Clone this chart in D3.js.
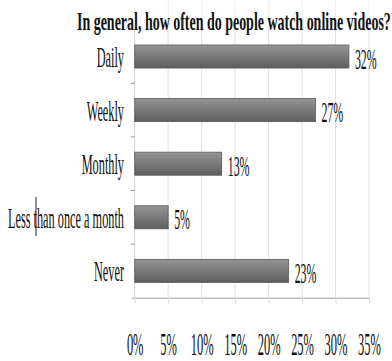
<!DOCTYPE html>
<html>
<head>
<meta charset="utf-8">
<script src="https://cdn.jsdelivr.net/npm/d3@7"></script>
<style>
  html, body { margin: 0; padding: 0; background: #fff; }
  svg { display: block; }
  text { font-family: "Liberation Serif", "Times New Roman", serif; fill: #111; }
</style>
</head>
<body>
<svg id="chart" width="392" height="361"></svg>
<script>
// Survey answers and their shares (%)
const categories = ["Daily", "Weekly", "Monthly", "Less than once a month", "Never"];
const values = [32, 27, 13, 5, 23];
const tickValues = [0, 5, 10, 15, 20, 25, 30, 35];
const title = "In general, how often do people watch online videos?";

const svg = d3.select("#chart");
const plotLeft = 134.7, plotRight = 369, plotTop = 29.7, plotBottom = 297.7;

const x = d3.scaleLinear().domain([0, 35]).range([plotLeft, plotRight]);
const y = d3.scaleBand().domain(categories).range([plotTop, plotBottom])
  .paddingInner(0.57).paddingOuter(0.285);

// Squeeze a text element horizontally so it spans the given width
function fitWidth(sel, width, tx, ty) {
  sel.each(function () {
    const w = this.getComputedTextLength();
    const s = width / w;
    d3.select(this).attr("transform", `translate(${tx},${ty}) scale(${s},1)`);
  });
}
function squeeze(sel, s, tx, ty) {
  sel.attr("transform", `translate(${tx},${ty}) scale(${s},1)`);
}

// Bar gradient
const defs = svg.append("defs");
const grad = defs.append("linearGradient").attr("id", "barGrad")
  .attr("x1", 0).attr("y1", 0).attr("x2", 0).attr("y2", 1);
grad.append("stop").attr("offset", "0%").attr("stop-color", "#959595");
grad.append("stop").attr("offset", "100%").attr("stop-color", "#5e5e5e");

// Vertical grid lines (faint above the plot, behind the title)
svg.append("g").selectAll("line").data(tickValues.slice(1)).join("line")
  .attr("x1", d => x(d)).attr("x2", d => x(d))
  .attr("y1", 0).attr("y2", plotTop)
  .attr("stroke", "#efefef").attr("stroke-width", 1);
svg.append("g").selectAll("line").data(tickValues.slice(1)).join("line")
  .attr("x1", d => x(d)).attr("x2", d => x(d))
  .attr("y1", plotTop).attr("y2", plotBottom)
  .attr("stroke", "#e2e2e2").attr("stroke-width", 1);

// Left axis line with ticks between categories
svg.append("line").attr("x1", plotLeft).attr("x2", plotLeft)
  .attr("y1", plotTop).attr("y2", plotBottom)
  .attr("stroke", "#d0d0d0");
const step = y.step();
svg.append("g").selectAll("line").data(categories.slice(1)).join("line")
  .attr("x1", plotLeft - 4).attr("x2", plotLeft)
  .attr("y1", d => y(d) - y.paddingInner() * step / 2)
  .attr("y2", d => y(d) - y.paddingInner() * step / 2)
  .attr("stroke", "#999");

// Bottom axis
const xAxis = d3.axisBottom(x).tickValues(tickValues)
  .tickFormat(d => d + "%").tickSize(6).tickPadding(0);
const gx = svg.append("g").attr("transform", `translate(0,${plotBottom})`).call(xAxis);
gx.select(".domain").attr("stroke", "#a0a0a0").attr("d", `M${plotLeft - 3},0.5H${plotRight}`);
gx.selectAll(".tick line").attr("stroke", "#dcdcdc");
gx.selectAll(".tick text")
  .attr("y", null).attr("dy", null)
  .style("font-size", "32px").style("font-family", "'Liberation Serif', serif")
  .attr("fill", "#111")
  .attr("text-anchor", "middle")
  .call(squeeze, 0.39, 0, 57);

// Bars
svg.append("g").selectAll("rect").data(values).join("rect")
  .attr("x", x(0))
  .attr("y", (d, i) => y(categories[i]))
  .attr("width", d => x(d) - x(0))
  .attr("height", y.bandwidth())
  .attr("fill", "url(#barGrad)")
  .attr("stroke", "#5a5a5a").attr("stroke-width", 0.8);

// Value labels
svg.append("g").selectAll("text").data(values).join("text")
  .text(d => d + "%")
  .style("font-size", "29px")
  .attr("dy", "0.42em")
  .each(function (d, i) {
    squeeze(d3.select(this), 0.41, x(d) + 6, y(categories[i]) + y.bandwidth() / 2);
  });

// Category labels
svg.append("g").selectAll("text").data(categories).join("text")
  .text(d => d)
  .style("font-size", "30px")
  .attr("text-anchor", "end")
  .attr("dy", "0.35em")
  .each(function (d) {
    squeeze(d3.select(this), 0.41, 124, y(d) + y.bandwidth() / 2);
  });

// Thin caret mark inside the long label
svg.append("line").attr("x1", 36).attr("x2", 36).attr("y1", 197).attr("y2", 236)
  .attr("stroke", "#222").attr("stroke-width", 1);

// Title
svg.append("text").text(title)
  .style("font-size", "26px").style("font-weight", "bold")
  .call(fitWidth, 314, 77, 30);
</script>
</body>
</html>
